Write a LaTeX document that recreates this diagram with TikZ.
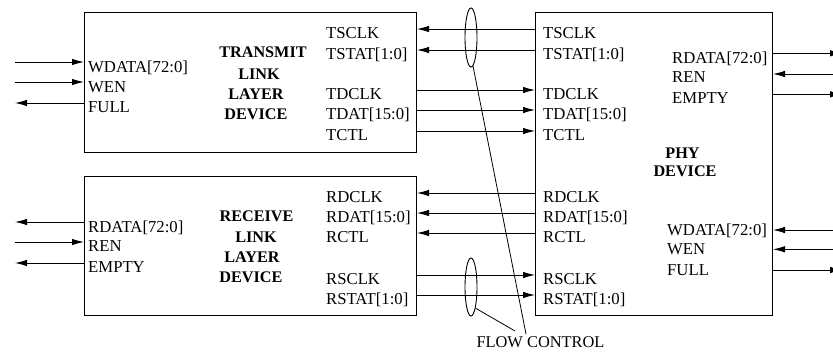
\documentclass[tikz,border=0pt]{standalone}
\usepackage{fontspec}
\setmainfont{Liberation Serif}
\usetikzlibrary{arrows.meta,shapes.geometric}
\begin{document}
\begin{tikzpicture}[x=1pt,y=-1pt,
  box/.style={draw, line width=1pt, inner sep=0pt, anchor=north west},
  sig/.style={line width=0.9pt, -{Latex[length=12pt,width=6.5pt]}},
  lbl/.style={anchor=base west, inner sep=0pt, font=\fontsize{16.7}{19}\selectfont},
  ttl/.style={anchor=base, inner sep=0pt, font=\fontsize{16.2}{19}\selectfont\bfseries},
  note/.style={anchor=base, inner sep=0pt, font=\fontsize{16.4}{19}\selectfont},
  loopring/.style={draw, ellipse, line width=0.9pt, inner sep=0pt, minimum width=12pt},
  lead/.style={line width=0.8pt}]
\useasboundingbox (0,0) rectangle (833,351);

% boxes
\node[box, minimum width=332pt, minimum height=140pt] (tx) at (84,12) {};
\node[box, minimum width=332pt, minimum height=139pt] (rx) at (84,176) {};
\node[box, minimum width=237pt, minimum height=303pt] (phy) at (535,12) {};

% titles
\node[ttl] (t1) at (263,57) {TRANSMIT};
\node[ttl] (t2) at (259,79) {LINK};
\node[ttl] (t3) at (256,99.5) {LAYER};
\node[ttl] (t4) at (256,119.5) {DEVICE};
\node[ttl] (r1) at (256.5,221.7) {RECEIVE};
\node[ttl] (r2) at (256,242.7) {LINK};
\node[ttl] (r3) at (252,262.7) {LAYER};
\node[ttl] (r4) at (251,282.7) {DEVICE};
\node[ttl] (p1) at (682.5,158) {PHY};
\node[ttl] (p2) at (685,176.7) {DEVICE};

% labels: transmit link layer
\node[lbl] (txwd) at (88,72) {WDATA[72:0]};
\node[lbl] (txwe) at (88,92) {WEN};
\node[lbl] (txfu) at (88,112.5) {FULL};
\node[lbl] (txsc) at (326,38.5) {TSCLK};
\node[lbl] (txst) at (326,59) {TSTAT[1:0]};
\node[lbl] (txdc) at (326,99.5) {TDCLK};
\node[lbl] (txda) at (326,119.5) {TDAT[15:0]};
\node[lbl] (txct) at (326,140) {TCTL};
% labels: receive link layer
\node[lbl] (rxrd) at (88,232) {RDATA[72:0]};
\node[lbl] (rxre) at (88,251.5) {REN};
\node[lbl] (rxem) at (88,272) {EMPTY};
\node[lbl] (rxdc) at (326,202) {RDCLK};
\node[lbl] (rxda) at (326,222.5) {RDAT[15:0]};
\node[lbl] (rxct) at (326,242.5) {RCTL};
\node[lbl] (rxsc) at (326,284.5) {RSCLK};
\node[lbl] (rxst) at (326,304.5) {RSTAT[1:0]};
% labels: phy
\node[lbl] (psc) at (543,38.5) {TSCLK};
\node[lbl] (pst) at (543,59) {TSTAT[1:0]};
\node[lbl] (pdc) at (543,99.5) {TDCLK};
\node[lbl] (pda) at (543,119.5) {TDAT[15:0]};
\node[lbl] (pct) at (543,140) {TCTL};
\node[lbl] (prdc) at (543,202) {RDCLK};
\node[lbl] (prda) at (543,222.5) {RDAT[15:0]};
\node[lbl] (prct) at (543,242.5) {RCTL};
\node[lbl] (prsc) at (543,284.5) {RSCLK};
\node[lbl] (prst) at (543,304.5) {RSTAT[1:0]};
\node[lbl] (prd) at (672,63.3) {RDATA[72:0]};
\node[lbl] (pre) at (672,82.5) {REN};
\node[lbl] (pem) at (672,103.3) {EMPTY};
\node[lbl] (pwd) at (667,235) {WDATA[72:0]};
\node[lbl] (pwe) at (667,254.5) {WEN};
\node[lbl] (pfu) at (667,275) {FULL};

% outer ends
\coordinate (Lwd) at (15,62);
\coordinate (Lwe) at (15,82);
\coordinate (Lfu) at (15,103);
\coordinate (Lrd) at (15,222);
\coordinate (Lre) at (15,242);
\coordinate (Lem) at (15,263);
\coordinate (Rrd) at (842,53.3);
\coordinate (Rre) at (845,74);
\coordinate (Rem) at (842,94.3);
\coordinate (Rwd) at (845,230);
\coordinate (Rwe) at (845,249.3);
\coordinate (Rfu) at (842,270);
% middle levels
\coordinate (Msc) at (475,29);
\coordinate (Mst) at (475,50);
\coordinate (Mdc) at (475,90);
\coordinate (Mda) at (475,110);
\coordinate (Mct) at (475,131);
\coordinate (Nrdc) at (475,193);
\coordinate (Nrda) at (475,213);
\coordinate (Nrct) at (475,233);
\coordinate (Nrsc) at (475,275);
\coordinate (Nrst) at (475,295);

% left side signals
\draw[sig] (Lwd) -- (tx.west |- Lwd);
\draw[sig] (Lwe) -- (tx.west |- Lwe);
\draw[sig] (tx.west |- Lfu) -- (Lfu);
\draw[sig] (rx.west |- Lrd) -- (Lrd);
\draw[sig] (Lre) -- (rx.west |- Lre);
\draw[sig] (rx.west |- Lem) -- (Lem);

% middle signals
\draw[sig] (phy.west |- Msc) -- (tx.east |- Msc);
\draw[sig] (phy.west |- Mst) -- (tx.east |- Mst);
\draw[sig] (tx.east |- Mdc) -- (phy.west |- Mdc);
\draw[sig] (tx.east |- Mda) -- (phy.west |- Mda);
\draw[sig] (tx.east |- Mct) -- (phy.west |- Mct);
\draw[sig] (phy.west |- Nrdc) -- (rx.east |- Nrdc);
\draw[sig] (phy.west |- Nrda) -- (rx.east |- Nrda);
\draw[sig] (phy.west |- Nrct) -- (rx.east |- Nrct);
\draw[sig] (rx.east |- Nrsc) -- (phy.west |- Nrsc);
\draw[sig] (rx.east |- Nrst) -- (phy.west |- Nrst);

% right side signals
\draw[sig] (phy.east |- Rrd) -- (Rrd);
\draw[sig] (Rre) -- (phy.east |- Rre);
\draw[sig] (phy.east |- Rem) -- (Rem);
\draw[sig] (Rwd) -- (phy.east |- Rwd);
\draw[sig] (Rwe) -- (phy.east |- Rwe);
\draw[sig] (phy.east |- Rfu) -- (Rfu);

% flow control
\node[loopring, minimum height=59pt] (fc1) at (471,37.5) {};
\node[loopring, minimum height=58pt] (fc2) at (471,287) {};
\node[note] (fcl) at (540.5,347) {FLOW CONTROL};
\coordinate (fcA) at (526,334);
\coordinate (fcB) at (515,331);
\draw[lead] (fc1.-86) -- (fcA);
\draw[lead] (fc2.-78) -- (fcB);
\end{tikzpicture}
\end{document}
